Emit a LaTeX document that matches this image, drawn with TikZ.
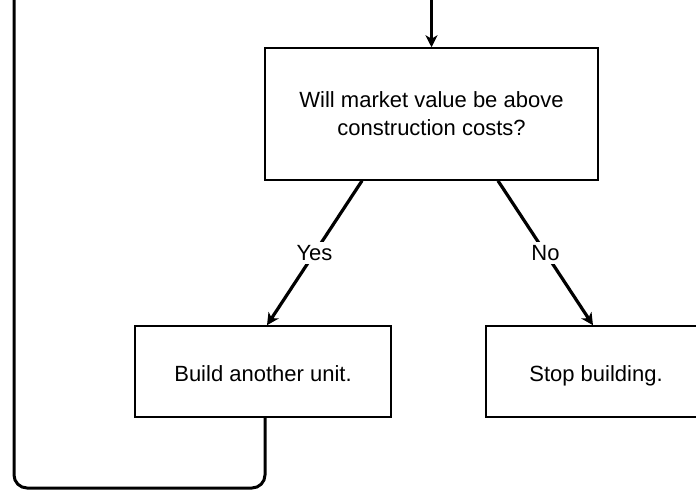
\documentclass[tikz,border=0pt]{standalone}
\usepackage{fontspec}
\setmainfont{Liberation Sans}
\usetikzlibrary{arrows.meta,calc}
\begin{document}
\begin{tikzpicture}[x=1pt,y=-1pt,
  box/.style={draw=black,line width=1.5pt,fill=white,inner sep=0pt,align=center,
    font=\fontsize{22}{28}\selectfont},
  onebox/.style={box,text height=20pt,text depth=0pt},
  conn/.style={line width=3.2pt,-{Stealth[length=12pt,width=12pt,inset=3.5pt]}},
  lbl/.style={fill=white,inner sep=3pt,font=\fontsize{22}{24}\selectfont}]
\useasboundingbox (0,0) rectangle (696,491);
\clip (0,0) rectangle (696,491);
\node[box,minimum width=333pt,minimum height=132pt] (q) at (431.5,114)
  {Will market value be above\\construction costs?};
\node[onebox,minimum width=256pt,minimum height=91pt] (lb) at (263,371.5) {Build another unit.};
\node[onebox,minimum width=220pt,minimum height=91pt] (rb) at (596,371.5) {Stop building.};
\coordinate (topin) at (431.5,-5);
\coordinate (loopbl) at (14,488);
\coordinate (looptop) at (14,-5);
\draw[conn] (topin) -- (q.north);
\draw[conn] ([xshift=-69.5pt]q.south) -- node[lbl]{Yes} ([xshift=4pt]lb.north);
\draw[conn] ([xshift=66.5pt]q.south) -- node[lbl]{No} ([xshift=-3pt]rb.north);
\draw[line width=3pt,rounded corners=13pt] ([xshift=2pt]lb.south) |- (loopbl) -- (looptop);
\end{tikzpicture}
\end{document}
